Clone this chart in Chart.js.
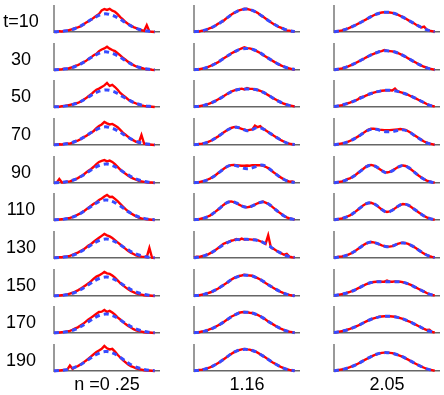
<!DOCTYPE html>
<html>
<head>
<meta charset="utf-8">
<script src="https://cdn.jsdelivr.net/npm/chart.js@4.4.0/dist/chart.umd.min.js"></script>
<style>
  body { margin: 0; background: #fff; width: 444px; height: 395px; position: relative; overflow: hidden;
         font-family: "Liberation Sans", Arial, sans-serif; }
  canvas { position: absolute; }
  .lab { position: absolute; font-size: 18px; color: #000; text-align: center; width: 80px; line-height: 20px; white-space: pre; }
</style>
</head>
<body>
<script>
// row / column labels
const rowLabels = ['t=10', '30', '50', '70', '90', '110', '130', '150', '170', '190'];
const colLabels = ['n =0 .25', '1.16', '2.05'];

// x positions of the samples (fraction of the axis length)
const xBlue = [0, .05, .1, .15, .2, .25, .3, .35, .4, .45, .5, .55, .6, .65, .7, .75, .8, .85, .9, .95];
const xRed = [0, .025, .05, .075, .1, .125, .15, .175, .2, .225, .25, .275, .3, .325, .35, .375, .4, .425, .45, .475,
  .5, .525, .55, .575, .6, .625, .65, .675, .7, .725, .75, .775, .8, .825, .85, .875, .9, .925, .95];

// n = 0.25 : model (blue dashed) and measured (red)
const blueN025 = [
  [.006,.015,.034,.07,.13,.22,.33,.46,.57,.65,.67,.62,.53,.41,.28,.18,.10,.054,.025,.011],
  [.006,.015,.034,.07,.13,.22,.33,.46,.57,.65,.67,.62,.53,.41,.28,.18,.10,.054,.025,.011],
  [.006,.014,.032,.066,.12,.20,.31,.43,.54,.61,.63,.59,.50,.38,.27,.17,.10,.05,.024,.01],
  [.006,.015,.034,.07,.13,.22,.33,.46,.57,.65,.67,.62,.53,.41,.28,.18,.10,.054,.025,.011],
  [.006,.016,.036,.073,.135,.23,.35,.48,.60,.68,.70,.65,.55,.42,.30,.19,.11,.056,.027,.011],
  [.007,.017,.038,.077,.14,.24,.37,.50,.63,.72,.74,.69,.58,.45,.31,.20,.11,.06,.028,.012],
  [.006,.016,.036,.073,.135,.23,.35,.48,.60,.68,.70,.65,.55,.42,.30,.19,.11,.056,.027,.011],
  [.006,.016,.036,.073,.135,.23,.35,.48,.60,.68,.70,.65,.55,.42,.30,.19,.11,.056,.027,.011],
  [.006,.016,.036,.073,.135,.23,.35,.48,.60,.68,.70,.65,.55,.42,.30,.19,.11,.056,.027,.011],
  [.007,.017,.037,.075,.14,.23,.36,.49,.61,.70,.72,.67,.57,.44,.30,.19,.11,.058,.027,.012]
];
const redN025 = [
  [.01,.0,.03,.02,.04,.05,.08,.11,.14,.17,.21,.27,.34,.40,.45,.53,.60,.67,.80,.85,.82,.86,.79,.75,.66,.55,.47,.37,.30,.24,.18,.14,.10,.07,.04,.25,.02,.01,.0],
  [.0,.01,.02,.03,.05,.04,.08,.10,.15,.18,.23,.28,.33,.41,.47,.55,.60,.70,.76,.80,.86,.79,.74,.70,.62,.54,.45,.38,.30,.25,.18,.13,.10,.08,.05,.03,.03,.01,.0],
  [.0,.01,.01,.03,.04,.06,.08,.10,.13,.15,.20,.26,.32,.40,.47,.56,.64,.68,.74,.80,.89,.78,.82,.74,.64,.52,.44,.36,.28,.22,.17,.13,.09,.06,.04,.03,.02,.01,.0],
  [.0,.02,.03,.02,.04,.06,.05,.09,.14,.16,.21,.28,.33,.39,.45,.52,.62,.70,.76,.85,.80,.76,.78,.72,.66,.56,.46,.38,.30,.22,.17,.12,.09,.37,.05,.03,.02,.01,.0],
  [.0,.01,.15,.02,.03,.05,.06,.10,.13,.18,.24,.30,.38,.45,.52,.60,.70,.78,.82,.85,.80,.83,.78,.70,.60,.50,.42,.34,.27,.21,.16,.12,.08,.06,.04,.03,.02,.02,.0],
  [.0,.01,.02,.03,.04,.06,.08,.11,.15,.20,.25,.31,.38,.46,.53,.60,.66,.74,.80,.87,.93,.85,.86,.78,.70,.60,.50,.40,.32,.25,.19,.13,.09,.06,.04,.03,.02,.01,.0],
  [.0,.02,.03,.03,.05,.06,.08,.12,.16,.20,.26,.31,.38,.46,.52,.60,.68,.75,.82,.89,.84,.80,.74,.66,.58,.50,.42,.34,.26,.20,.15,.10,.07,.05,.04,.03,.37,.01,.0],
  [.0,.01,.02,.03,.04,.06,.09,.12,.16,.21,.27,.33,.40,.47,.55,.64,.72,.76,.82,.89,.84,.82,.76,.68,.58,.48,.40,.32,.25,.19,.14,.10,.07,.05,.03,.02,.02,.01,.0],
  [.0,.01,.02,.03,.04,.06,.08,.12,.17,.21,.28,.34,.42,.50,.57,.64,.71,.78,.79,.85,.78,.82,.76,.68,.58,.50,.41,.33,.26,.20,.14,.10,.07,.05,.03,.02,.02,.01,.0],
  [.0,.01,.02,.03,.04,.05,.20,.08,.14,.18,.24,.31,.38,.46,.54,.62,.70,.76,.82,.93,.84,.80,.82,.72,.60,.50,.40,.32,.24,.18,.14,.10,.07,.05,.03,.02,.02,.01,.0]
];

// n = 1.16
const blueN116 = [
  [.01,.03,.07,.135,.23,.35,.49,.63,.75,.83,.85,.80,.70,.57,.43,.30,.19,.11,.05,.02],
  [.01,.03,.07,.14,.23,.35,.48,.60,.71,.78,.80,.77,.69,.57,.44,.32,.21,.12,.06,.02],
  [.01,.03,.07,.13,.22,.33,.45,.56,.63,.66,.67,.66,.63,.55,.44,.32,.21,.12,.06,.02],
  [.01,.03,.07,.14,.25,.38,.52,.62,.66,.60,.53,.57,.65,.60,.48,.35,.23,.12,.05,.02],
  [.01,.03,.08,.16,.28,.43,.58,.66,.64,.57,.53,.56,.63,.66,.56,.40,.25,.13,.05,.02],
  [.01,.03,.08,.16,.30,.46,.62,.68,.63,.52,.47,.52,.62,.67,.60,.45,.29,.15,.06,.02],
  [.01,.04,.09,.17,.29,.42,.54,.63,.68,.69,.69,.68,.65,.58,.47,.34,.22,.12,.05,.02],
  [.01,.03,.07,.13,.22,.33,.46,.60,.70,.76,.77,.74,.66,.55,.42,.30,.19,.10,.04,.01],
  [.01,.03,.07,.13,.22,.33,.46,.59,.70,.76,.77,.74,.67,.56,.43,.31,.20,.11,.05,.01],
  [.01,.03,.07,.13,.23,.35,.49,.63,.74,.79,.80,.76,.68,.56,.43,.30,.19,.10,.04,.01]
];
const redN116 = [
  [.01,.03,.02,.05,.04,.10,.14,.17,.23,.30,.35,.40,.49,.56,.64,.70,.75,.80,.83,.86,.85,.83,.80,.76,.71,.63,.57,.50,.43,.36,.30,.24,.19,.15,.10,.06,.05,.03,.02],
  [.01,.02,.03,.05,.07,.10,.14,.19,.24,.28,.35,.42,.48,.54,.61,.66,.71,.76,.80,.84,.81,.80,.77,.73,.68,.63,.56,.50,.44,.38,.32,.26,.21,.16,.12,.08,.06,.03,.01],
  [.01,.02,.03,.05,.07,.10,.13,.18,.22,.28,.33,.39,.45,.51,.57,.61,.64,.66,.68,.65,.70,.67,.67,.65,.63,.60,.55,.50,.44,.38,.32,.27,.21,.16,.12,.09,.06,.04,.02],
  [.01,.02,.04,.05,.07,.10,.14,.19,.25,.31,.38,.45,.52,.58,.63,.66,.67,.63,.60,.57,.54,.56,.58,.72,.66,.70,.61,.55,.48,.42,.35,.29,.23,.17,.12,.08,.05,.03,.02],
  [.01,.02,.03,.06,.08,.12,.16,.22,.28,.36,.43,.51,.58,.63,.66,.67,.66,.65,.64,.64,.65,.64,.66,.66,.66,.66,.64,.60,.55,.48,.40,.33,.25,.19,.13,.09,.05,.06,.03],
  [.01,.02,.03,.06,.08,.12,.16,.23,.30,.38,.46,.55,.62,.67,.69,.66,.63,.57,.52,.49,.47,.49,.52,.57,.62,.65,.68,.64,.60,.53,.45,.37,.29,.22,.15,.10,.06,.04,.02],
  [.02,.05,.04,.07,.09,.12,.17,.22,.29,.36,.44,.52,.56,.60,.64,.66,.70,.67,.72,.68,.69,.69,.68,.68,.66,.62,.58,.52,.84,.40,.34,.28,.22,.17,.12,.15,.05,.03,.02],
  [.01,.02,.03,.05,.07,.10,.13,.16,.22,.27,.33,.40,.46,.53,.60,.66,.70,.74,.76,.79,.77,.76,.75,.70,.66,.61,.55,.48,.42,.36,.30,.24,.19,.14,.10,.07,.04,.02,.01],
  [.01,.03,.03,.06,.07,.10,.14,.17,.22,.28,.33,.39,.46,.53,.60,.65,.70,.75,.77,.78,.77,.75,.74,.70,.67,.62,.56,.50,.43,.37,.31,.25,.20,.15,.11,.08,.05,.03,.01],
  [.01,.02,.04,.05,.07,.10,.13,.18,.23,.29,.35,.42,.49,.56,.63,.69,.74,.77,.80,.82,.80,.79,.76,.73,.68,.62,.56,.50,.43,.36,.30,.25,.19,.14,.10,.07,.04,.02,.01]
];

// n = 2.05
const blueN205 = [
  [.01,.04,.09,.16,.25,.35,.46,.57,.66,.72,.73,.71,.64,.55,.44,.33,.22,.12,.05,.01],
  [.01,.04,.09,.16,.25,.35,.46,.56,.64,.70,.71,.69,.63,.54,.43,.32,.21,.12,.05,.01],
  [.02,.05,.10,.16,.24,.33,.42,.50,.56,.60,.62,.61,.58,.52,.45,.36,.26,.16,.07,.02],
  [.01,.04,.08,.15,.25,.37,.50,.58,.58,.52,.49,.50,.54,.56,.50,.38,.25,.13,.05,.01],
  [.01,.04,.09,.17,.29,.44,.59,.66,.60,.46,.38,.45,.58,.65,.58,.43,.27,.14,.05,.01],
  [.01,.04,.09,.17,.30,.46,.60,.64,.55,.39,.29,.36,.50,.59,.55,.42,.28,.15,.06,.01],
  [.01,.04,.08,.15,.26,.40,.53,.59,.55,.47,.42,.44,.52,.56,.52,.42,.29,.16,.07,.02],
  [.02,.05,.09,.15,.23,.33,.43,.50,.53,.53,.53,.53,.53,.51,.45,.36,.26,.16,.07,.02],
  [.02,.05,.09,.15,.23,.32,.42,.51,.57,.61,.62,.61,.58,.52,.44,.35,.25,.15,.07,.02],
  [.01,.04,.08,.14,.22,.32,.43,.53,.62,.67,.68,.66,.60,.52,.42,.31,.21,.12,.05,.01]
];
const redN205 = [
  [.01,.02,.04,.06,.09,.12,.16,.21,.25,.30,.35,.41,.46,.52,.57,.62,.66,.70,.72,.73,.73,.72,.71,.68,.64,.60,.55,.50,.44,.38,.33,.27,.22,.17,.20,.09,.05,.03,.01],
  [.01,.02,.04,.06,.09,.12,.16,.20,.25,.30,.35,.40,.46,.51,.56,.60,.64,.68,.70,.74,.71,.70,.69,.66,.63,.59,.54,.49,.43,.38,.32,.27,.21,.16,.12,.09,.05,.03,.01],
  [.02,.03,.05,.07,.10,.13,.16,.20,.24,.28,.36,.37,.42,.46,.50,.53,.56,.58,.60,.61,.62,.62,.61,.68,.58,.55,.52,.49,.45,.40,.36,.31,.26,.21,.16,.11,.07,.04,.02],
  [.01,.02,.04,.06,.08,.11,.15,.20,.25,.31,.37,.44,.51,.57,.60,.60,.59,.57,.56,.55,.55,.55,.56,.57,.58,.59,.58,.56,.51,.45,.38,.32,.25,.19,.13,.09,.05,.03,.01],
  [.01,.02,.04,.06,.09,.14,.17,.23,.29,.37,.45,.52,.60,.65,.67,.64,.60,.53,.46,.41,.39,.41,.46,.52,.58,.62,.65,.63,.58,.51,.43,.35,.27,.20,.14,.09,.06,.03,.01],
  [.01,.02,.04,.06,.09,.13,.17,.23,.30,.38,.46,.54,.60,.63,.64,.60,.55,.47,.39,.33,.30,.32,.36,.43,.50,.55,.59,.58,.55,.49,.42,.35,.28,.21,.15,.10,.06,.03,.01],
  [.01,.03,.05,.06,.08,.11,.15,.20,.26,.33,.40,.47,.53,.57,.59,.58,.55,.51,.47,.44,.42,.42,.44,.48,.52,.55,.57,.55,.52,.47,.42,.36,.29,.22,.16,.11,.07,.04,.02],
  [.02,.03,.05,.07,.09,.12,.15,.19,.23,.28,.33,.38,.43,.47,.50,.52,.53,.54,.53,.53,.57,.53,.53,.54,.53,.53,.51,.48,.45,.41,.36,.31,.26,.21,.16,.11,.07,.04,.02],
  [.02,.03,.05,.07,.09,.12,.15,.19,.23,.27,.32,.37,.42,.47,.51,.54,.57,.60,.61,.62,.62,.62,.61,.60,.58,.55,.52,.48,.44,.40,.35,.30,.25,.20,.15,.11,.12,.04,.02],
  [.01,.02,.04,.06,.08,.11,.14,.18,.22,.27,.32,.38,.43,.48,.53,.58,.62,.65,.67,.68,.68,.67,.66,.63,.60,.56,.52,.47,.42,.36,.31,.26,.21,.16,.12,.08,.05,.03,.01]
];

const blueCols = [blueN025, blueN116, blueN205];
const redCols = [redN025, redN116, redN205];

const colLeft = [54, 194, 334];
const colCenter = [107, 247, 387];
const firstBottom = 32;
const rowStep = 37.67;
const panelW = 106;
const panelH = 27;
const pad = 2;

function addLabel(text, cx, cy) {
  const d = document.createElement('div');
  d.className = 'lab';
  d.textContent = text;
  d.style.left = (cx - 40) + 'px';
  d.style.top = (cy - 10) + 'px';
  document.body.appendChild(d);
}

for (let c = 0; c < 3; c++) {
  for (let r = 0; r < rowLabels.length; r++) {
    const bottom = Math.round(firstBottom + rowStep * r);
    const canvas = document.createElement('canvas');
    canvas.width = panelW + pad;
    canvas.height = panelH + pad;
    canvas.style.left = (colLeft[c] - pad) + 'px';
    canvas.style.top = (bottom - panelH) + 'px';
    document.body.appendChild(canvas);

    new Chart(canvas.getContext('2d'), {
      type: 'line',
      data: {
        datasets: [
          {
            data: xBlue.map((x, i) => ({ x, y: blueCols[c][r][i] })),
            borderColor: 'rgb(55, 75, 255)',
            borderWidth: 3,
            borderDash: [5, 4],
            pointRadius: 0,
            tension: 0.4,
            clip: false,
            order: 0,
          },
          {
            data: xRed.map((x, i) => ({ x, y: redCols[c][r][i] })),
            borderColor: 'rgb(255, 0, 0)',
            borderWidth: 2.4,
            pointRadius: 0,
            tension: 0,
            clip: false,
            order: 1,
          },
        ],
      },
      options: {
        responsive: false,
        animation: false,
        events: [],
        layout: { padding: { left: pad, bottom: pad, top: 0, right: 0 } },
        plugins: { legend: { display: false }, tooltip: { enabled: false } },
        scales: {
          x: {
            type: 'linear', min: 0, max: 1,
            ticks: { display: false },
            grid: { display: false, drawTicks: false },
            border: { display: true, color: '#666', width: 1.5 },
          },
          y: {
            min: 0, max: 1,
            ticks: { display: false },
            grid: { display: false, drawTicks: false },
            border: { display: true, color: '#999', width: 2 },
          },
        },
      },
    });

    if (c === 0) addLabel(rowLabels[r], 21, bottom - 11);
  }
  addLabel(colLabels[c], colCenter[c], 384);
}
</script>
</body>
</html>
